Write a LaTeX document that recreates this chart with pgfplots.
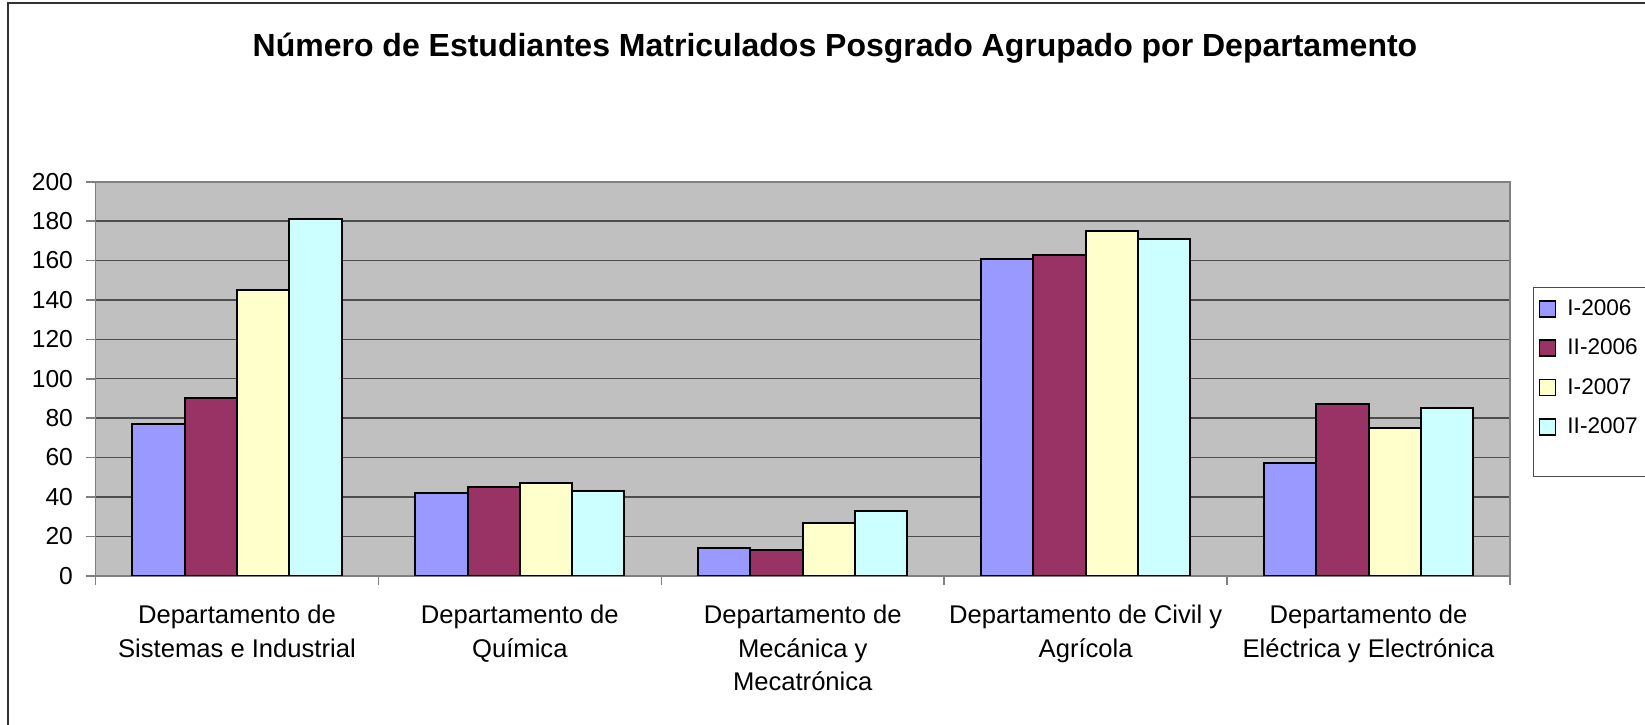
\documentclass[border=0pt]{standalone}
\usepackage{fontspec}
\setmainfont{Liberation Sans}
\usepackage{pgfplots}
\usepackage{pgfplotstable}
\pgfplotsset{compat=1.18}
\definecolor{sIa}{HTML}{9999FF}
\definecolor{sIIa}{HTML}{993366}
\definecolor{sIb}{HTML}{FFFFCC}
\definecolor{sIIb}{HTML}{CCFFFF}
\definecolor{plotbg}{HTML}{C0C0C0}
\definecolor{gridc}{HTML}{4D4D4D}
\definecolor{axc}{HTML}{808080}
\pgfplotstableread{
x I06 II06 I07 II07
0 77 90 145 181
1 42 45 47 43
2 14 13 27 33
3 161 163 175 171
4 57 87 75 85
}\datatable
\begin{document}
\begin{tikzpicture}
\useasboundingbox (0,0) rectangle (822.5pt,-362pt);
\draw[line width=1pt, black!80] (4.2pt,-600pt) -- (4.2pt,-1.5pt) -- (900pt,-1.5pt);
\node[font=\bfseries\fontsize{16}{18}\selectfont] at (417.5pt,-24.3pt) {Número de Estudiantes Matriculados Posgrado Agrupado por Departamento};
\begin{axis}[
  at={(47.75pt,-287.85pt)}, anchor=south west,
  scale only axis, width=707.25pt, height=197pt,
  ybar=0pt, bar width=26.15pt,
  xmin=-0.5, xmax=4.5, ymin=0, ymax=200,
  ytick={0,20,...,200},
  xtick={-0.5,0.5,...,4.5}, xticklabels={},
  extra x ticks={0,1,2,3,4},
  extra x tick labels={Departamento de\\Sistemas e Industrial, Departamento de\\Química, Departamento de\\Mecánica y\\Mecatrónica, Departamento de Civil y\\Agrícola, Departamento de\\Eléctrica y Electrónica},
  extra x tick style={tick style={draw=none}, grid=none},
  xtick pos=bottom, ytick pos=left,
  tick align=outside, major tick length=4.5pt,
  tick style={axc, line width=0.8pt},
  ymajorgrids, grid style={gridc, line width=0.7pt},
  axis background/.style={fill=plotbg},
  axis line style={axc, line width=0.8pt},
  /pgf/number format/assume math mode=true,
  ticklabel style={font=\fontsize{12.3}{14}\selectfont},
  yticklabel style={anchor=east, inner sep=0pt, xshift=-6.6pt},
  xticklabel style={align=center, anchor=north, inner sep=0pt, yshift=-10pt, font=\fontsize{12.8}{16.7}\selectfont},
  legend style={at={(1.016,0.7317)}, anchor=north west, draw=black!70, fill=white,
    font=\fontsize{11.3}{13}\selectfont, row sep=6.3pt, inner xsep=3pt, inner ysep=4pt,
    nodes={text width=45pt, inner xsep=5.5pt}},
  legend cell align=left,
  legend image code/.code={\draw[#1, draw=black, line width=0.7pt] (0pt,-3.8pt) rectangle (8pt,4.2pt);},
  every axis plot/.append style={draw=black, line width=1pt},
]
\addplot[fill=sIa] table[x=x,y=I06]{\datatable};
\addplot[fill=sIIa] table[x=x,y=II06]{\datatable};
\addplot[fill=sIb] table[x=x,y=I07]{\datatable};
\addplot[fill=sIIb] table[x=x,y=II07]{\datatable};
\legend{I-2006,II-2006,I-2007,II-2007}
\addlegendimage{empty legend}
\addlegendentry{\rule{0pt}{2pt}}
\end{axis}
\end{tikzpicture}
\end{document}
